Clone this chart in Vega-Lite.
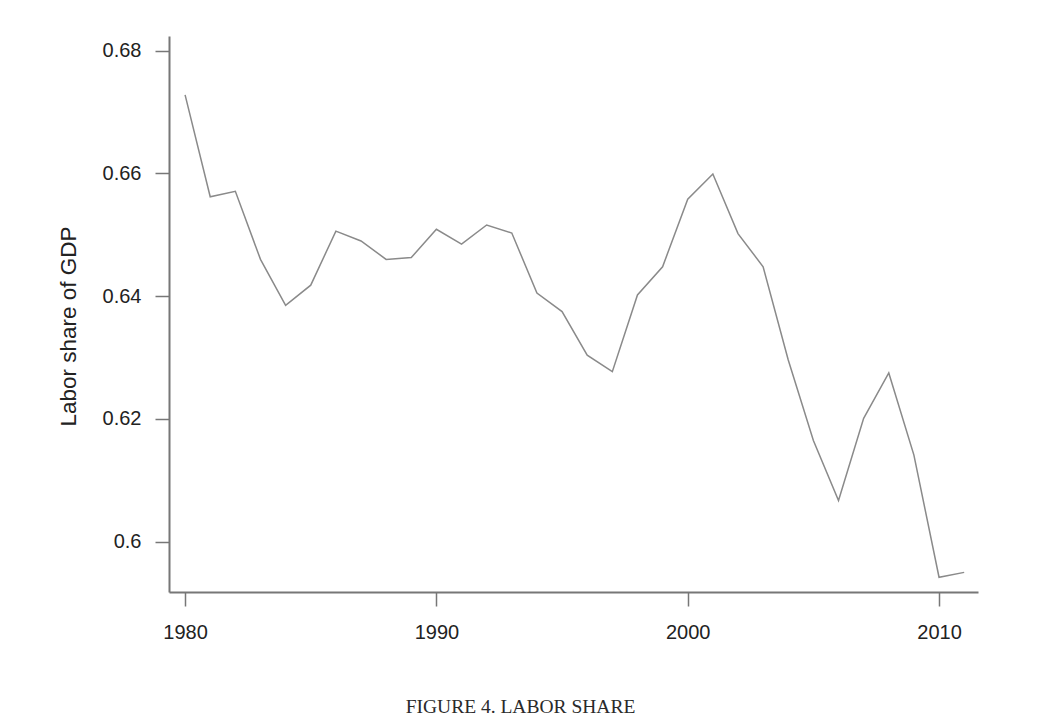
{
  "$schema": "https://vega.github.io/schema/vega-lite/v6.json",
  "autosize": "none",
  "width": 809,
  "height": 556,
  "padding": {"left": 169, "top": 36, "right": 63, "bottom": 128},
  "background": "white",
  "title": {
    "text": "FIGURE 4. LABOR SHARE",
    "orient": "bottom",
    "anchor": "middle",
    "font": "Liberation Serif",
    "fontSize": 19.5,
    "fontWeight": "normal",
    "color": "#2a2a2a",
    "dx": -53,
    "offset": 56
  },
  "config": {
    "view": {"stroke": null},
    "axis": {
      "labelFont": "Liberation Sans",
      "labelFontSize": 20,
      "labelColor": "#222222",
      "titleFont": "Liberation Sans",
      "titleFontSize": 22.5,
      "titleFontWeight": "normal",
      "titleColor": "#222222",
      "domainColor": "#777777",
      "domainWidth": 2,
      "tickColor": "#777777",
      "tickWidth": 1.5,
      "tickSize": 14,
      "grid": false
    }
  },
  "data": {
    "values": [
      {"year": 1980, "share": 0.6728},
      {"year": 1981, "share": 0.6562},
      {"year": 1982, "share": 0.6571},
      {"year": 1983, "share": 0.6460},
      {"year": 1984, "share": 0.6385},
      {"year": 1985, "share": 0.6418},
      {"year": 1986, "share": 0.6506},
      {"year": 1987, "share": 0.6490},
      {"year": 1988, "share": 0.6460},
      {"year": 1989, "share": 0.6463},
      {"year": 1990, "share": 0.6509},
      {"year": 1991, "share": 0.6485},
      {"year": 1992, "share": 0.6516},
      {"year": 1993, "share": 0.6503},
      {"year": 1994, "share": 0.6405},
      {"year": 1995, "share": 0.6375},
      {"year": 1996, "share": 0.6304},
      {"year": 1997, "share": 0.6277},
      {"year": 1998, "share": 0.6402},
      {"year": 1999, "share": 0.6448},
      {"year": 2000, "share": 0.6558},
      {"year": 2001, "share": 0.6599},
      {"year": 2002, "share": 0.6502},
      {"year": 2003, "share": 0.6448},
      {"year": 2004, "share": 0.6296},
      {"year": 2005, "share": 0.6165},
      {"year": 2006, "share": 0.6067},
      {"year": 2007, "share": 0.6201},
      {"year": 2008, "share": 0.6275},
      {"year": 2009, "share": 0.6141},
      {"year": 2010, "share": 0.5942},
      {"year": 2011, "share": 0.5950}
    ]
  },
  "mark": {"type": "line", "color": "#8a8a8a", "strokeWidth": 1.5},
  "encoding": {
    "x": {
      "field": "year",
      "type": "quantitative",
      "scale": {"domain": [1979.36, 2011.55], "nice": false, "zero": false},
      "axis": {
        "values": [1980, 1990, 2000, 2010],
        "format": "d",
        "title": null,
        "labelPadding": 16,
        "labelFlush": false
      }
    },
    "y": {
      "field": "share",
      "type": "quantitative",
      "scale": {"domain": [0.5918, 0.6824], "nice": false, "zero": false},
      "axis": {
        "values": [0.6, 0.62, 0.64, 0.66, 0.68],
        "labelExpr": "datum.value == 0.6 ? '0.6' : format(datum.value, '.2f')",
        "title": "Labor share of GDP",
        "labelPadding": 14,
        "labelFlush": false,
        "titleAngle": -90,
        "titleAlign": "center",
        "titleBaseline": "middle",
        "titleX": -101,
        "titleY": 290
      }
    }
  }
}
